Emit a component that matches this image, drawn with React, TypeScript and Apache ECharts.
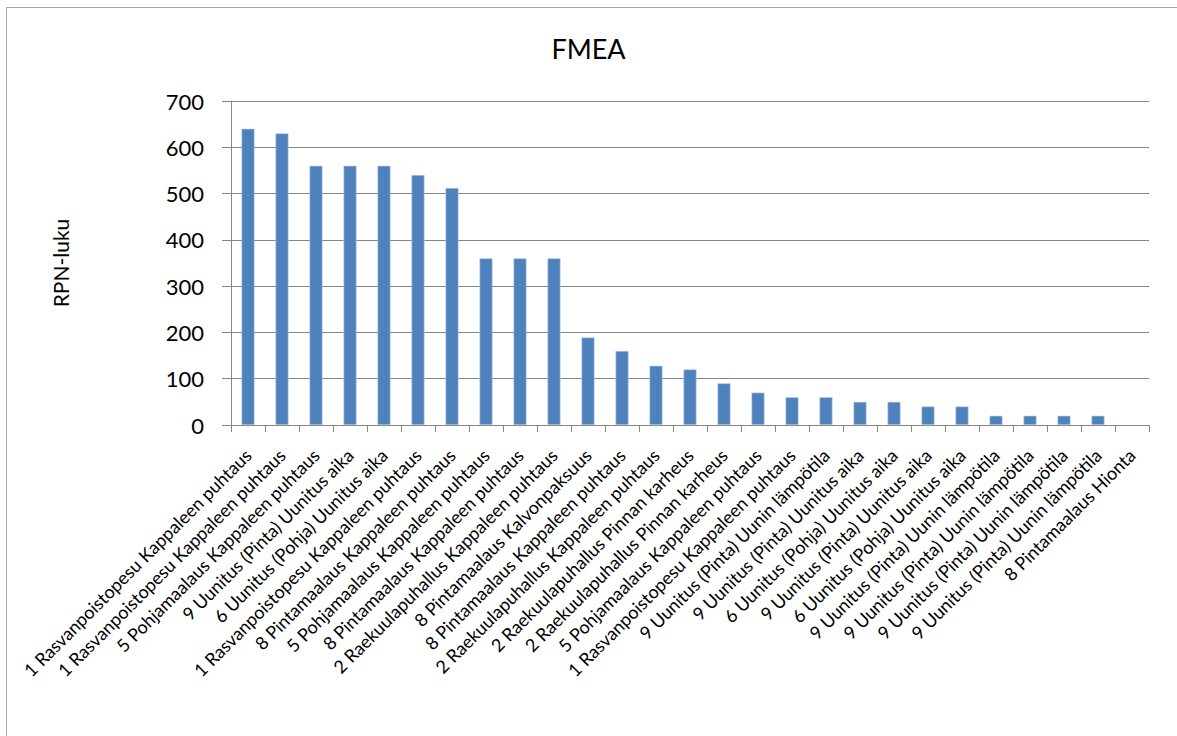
import React, { useEffect, useRef } from "react";
import * as echarts from "echarts";

const categories: string[] = [
  "1 Rasvanpoistopesu Kappaleen puhtaus",
  "1 Rasvanpoistopesu Kappaleen puhtaus",
  "5 Pohjamaalaus Kappaleen puhtaus",
  "9 Uunitus (Pinta) Uunitus aika",
  "6 Uunitus (Pohja) Uunitus aika",
  "1 Rasvanpoistopesu Kappaleen puhtaus",
  "8 Pintamaalaus Kappaleen puhtaus",
  "5 Pohjamaalaus Kappaleen puhtaus",
  "8 Pintamaalaus Kappaleen puhtaus",
  "2 Raekuulapuhallus Kappaleen puhtaus",
  "8 Pintamaalaus Kalvonpaksuus",
  "8 Pintamaalaus Kappaleen puhtaus",
  "2 Raekuulapuhallus Kappaleen puhtaus",
  "2 Raekuulapuhallus Pinnan karheus",
  "2 Raekuulapuhallus Pinnan karheus",
  "5 Pohjamaalaus Kappaleen puhtaus",
  "1 Rasvanpoistopesu Kappaleen puhtaus",
  "9 Uunitus (Pinta) Uunin lämpötila",
  "9 Uunitus (Pinta) Uunitus aika",
  "6 Uunitus (Pohja) Uunitus aika",
  "9 Uunitus (Pinta) Uunitus aika",
  "6 Uunitus (Pohja) Uunitus aika",
  "9 Uunitus (Pinta) Uunin lämpötila",
  "9 Uunitus (Pinta) Uunin lämpötila",
  "9 Uunitus (Pinta) Uunin lämpötila",
  "9 Uunitus (Pinta) Uunin lämpötila",
  "8 Pintamaalaus Hionta",
];

const rpnValues: (number | null)[] = [
  640, 630, 560, 560, 560, 540, 512, 360, 360, 360, 189, 160, 128, 120, 90,
  70, 60, 60, 50, 50, 40, 40, 20, 20, 20, 20, null,
];

const chartTitle = "FMEA";
const yAxisName = "RPN-luku";
const yMin = 0;
const yMax = 700;
const yInterval = 100;

const FONT = "Lato, 'Open Sans', sans-serif";

export default function App() {
  const ref = useRef<HTMLDivElement>(null);

  useEffect(() => {
    if (!ref.current) return;
    const chart = echarts.init(ref.current, undefined, { renderer: "svg" });
    chart.setOption({
      animation: false,
      backgroundColor: "#ffffff",
      textStyle: { fontFamily: FONT },
      title: {
        text: chartTitle,
        left: "center",
        top: 30,
        textStyle: {
          fontFamily: FONT,
          fontSize: 27,
          fontWeight: "normal",
          color: "#000000",
        },
      },
      graphic: [
        {
          type: "rect",
          shape: { x: 6.5, y: 7.5, width: 1300, height: 900 },
          style: { fill: "none", stroke: "#a6a6a6", lineWidth: 1 },
          silent: true,
          z: -10,
        },
      ],
      grid: {
        left: 231,
        right: 28,
        top: 101,
        bottom: 311,
        containLabel: false,
      },
      xAxis: {
        type: "category",
        data: categories,
        axisLine: { show: true, lineStyle: { color: "#868686", width: 1 } },
        axisTick: {
          show: true,
          alignWithLabel: false,
          length: 7,
          lineStyle: { color: "#868686" },
        },
        axisLabel: {
          interval: 0,
          rotate: 45,
          margin: 27,
          fontSize: 18,
          fontFamily: FONT,
          color: "#000000",
        },
        splitLine: { show: false },
      },
      yAxis: {
        type: "value",
        min: yMin,
        max: yMax,
        interval: yInterval,
        name: yAxisName,
        nameLocation: "middle",
        nameRotate: 90,
        nameGap: 160,
        nameTextStyle: { fontFamily: FONT, fontSize: 21, color: "#000000" },
        axisLine: { show: true, lineStyle: { color: "#868686", width: 1 } },
        axisTick: { show: true, length: 9, lineStyle: { color: "#868686" } },
        axisLabel: {
          margin: 27,
          fontSize: 22,
          fontFamily: FONT,
          color: "#000000",
        },
        splitLine: { show: true, lineStyle: { color: "#868686", width: 1 } },
      },
      series: [
        {
          type: "bar",
          data: rpnValues,
          barWidth: 13,
          itemStyle: {
            color: "#4f81bd",
            borderColor: "#b9cde5",
            borderWidth: 0.6,
          },
        },
      ],
    });
    return () => chart.dispose();
  }, []);

  return (
    <div
      ref={ref}
      style={{ position: "absolute", left: 0, top: 0, width: 1177, height: 736 }}
    />
  );
}
